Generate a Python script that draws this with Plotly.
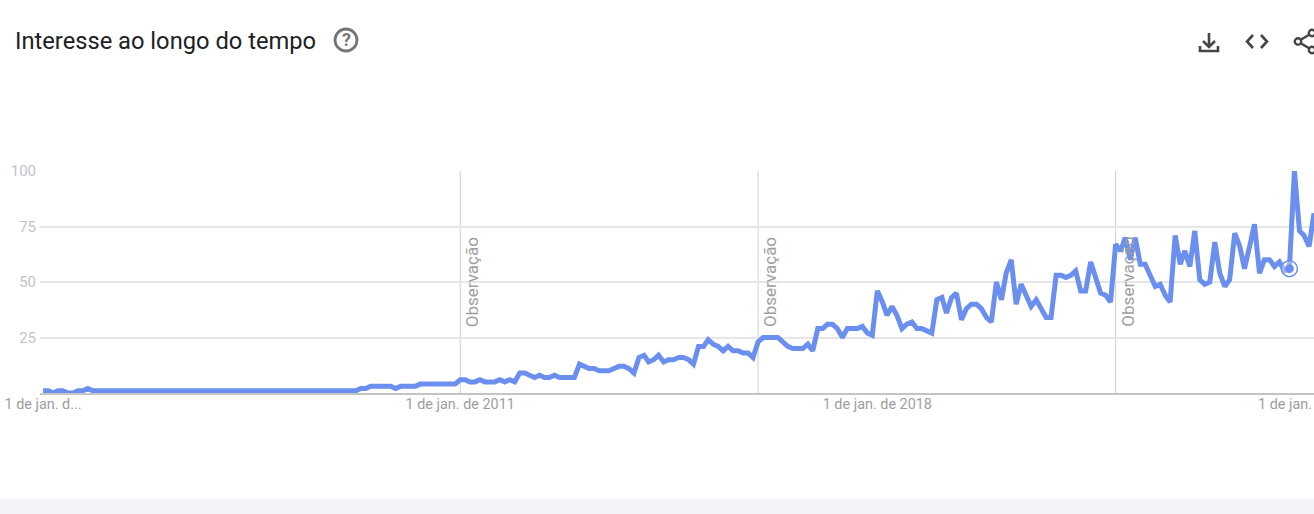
import pandas as pd
import plotly.graph_objects as go

W, H = 1314, 514

TITLE = "Interesse ao longo do tempo"
NOTE = "Observação"
NOTE_DATES = ["2011-01-01", "2016-01-01", "2022-01-01"]
Y_TICKS = [25, 50, 75, 100]
X_TICKS = ["2004-01-01", "2011-01-01", "2018-01-01"]
X_TICK_TEXT = ["1 de jan. d...", "1 de jan. de 2011", "1 de jan. de 2018"]
LAST_TICK_TEXT = "1 de jan."

v2004 = [1, 1, 0, 1, 1, 0, 0, 1, 1, 2, 1, 1]
v2005 = [1, 1, 1, 1, 1, 1, 1, 1, 1, 1, 1, 1]
v2006 = [1, 1, 1, 1, 1, 1, 1, 1, 1, 1, 1, 1]
v2007 = [1, 1, 1, 1, 1, 1, 1, 1, 1, 1, 1, 1]
v2008 = [1, 1, 1, 1, 1, 1, 1, 1, 1, 1, 1, 1]
v2009 = [1, 1, 1, 1, 2, 2, 3, 3, 3, 3, 3, 2]
v2010 = [3, 3, 3, 3, 4, 4, 4, 4, 4, 4, 4, 4]
v2011 = [6, 6, 5, 5, 6, 5, 5, 5, 6, 5, 6, 5]
v2012 = [9, 9, 8, 7, 8, 7, 7, 8, 7, 7, 7, 7]
v2013 = [13, 12, 11, 11, 10, 10, 10, 11, 12, 12, 11, 9]
v2014 = [16, 17, 14, 15, 17, 14, 15, 15, 16, 16, 15, 13]
v2015 = [21, 21, 24, 22, 21, 19, 21, 19, 19, 18, 18, 16]
v2016 = [23, 25, 25, 25, 25, 23, 21, 20, 20, 20, 22, 19]
v2017 = [29, 29, 31, 31, 29, 25, 29, 29, 29, 30, 27, 26]
v2018 = [46, 41, 35, 39, 35, 29, 31, 32, 29, 29, 28, 27]
v2019 = [42, 43, 36, 43, 45, 33, 38, 40, 40, 38, 34, 32]
v2020 = [50, 42, 54, 60, 40, 49, 44, 39, 42, 38, 34, 34]
v2021 = [53, 53, 52, 53, 55, 46, 46, 59, 52, 45, 44, 41]
v2022 = [67, 64, 70, 60, 70, 58, 58, 53, 48, 49, 44, 41]
v2023 = [71, 58, 64, 57, 73, 51, 49, 50, 68, 54, 48, 51]
v2024 = [72, 66, 56, 66, 76, 54, 60, 60, 57, 59, 55, 56]
v2025 = [100, 73, 71, 66, 81]

values = (v2004 + v2005 + v2006 + v2007 + v2008 + v2009 + v2010 + v2011 + v2012 + v2013
          + v2014 + v2015 + v2016 + v2017 + v2018 + v2019 + v2020 + v2021 + v2022 + v2023
          + v2024 + v2025)
dates = pd.date_range("2004-01-01", periods=len(values), freq="MS")

BLUE = "#6b8fef"


def X(p):
    return p / W


def Y(p):
    return 1 - p / H


def path(*subpaths):
    out = []
    for pts in subpaths:
        out.append("M" + " L".join(f"{X(a):.5f},{Y(b):.5f}" for a, b in pts))
    return " ".join(out)


def circle(cx, cy, r, color, width, fill="white"):
    return dict(type="circle", xref="paper", yref="paper", x0=X(cx - r), x1=X(cx + r),
                y0=Y(cy + r), y1=Y(cy - r), line=dict(color=color, width=width), fillcolor=fill)


ICON = "#444746"
shapes = [
    dict(type="rect", xref="paper", yref="paper", x0=0, x1=1, y0=0, y1=Y(499),
         fillcolor="#f1f3f6", line_width=0),
    circle(346, 40, 11, "#757575", 2.8),
    dict(type="path", xref="paper", yref="paper", line=dict(color=ICON, width=2.6),
         path=path([(1209, 33), (1209, 46)], [(1203, 41), (1209, 47), (1215, 41)],
                   [(1200, 46), (1200, 51), (1218, 51), (1218, 46)])),
    dict(type="path", xref="paper", yref="paper", line=dict(color=ICON, width=2.6),
         path=path([(1253, 35), (1247, 41.5), (1253, 48)], [(1261, 35), (1267, 41.5), (1261, 48)])),
    dict(type="path", xref="paper", yref="paper", line=dict(color=ICON, width=2.6),
         path=path([(1312, 33), (1298, 41.5), (1312, 50)])),
    circle(1298, 41.5, 3.2, ICON, 2.4),
    circle(1312, 33, 3.2, ICON, 2.4),
    circle(1312, 50, 3.2, ICON, 2.4),
]
for d in NOTE_DATES:
    shapes.append(dict(type="line", xref="x", yref="paper", x0=d, x1=d, y0=Y(393), y1=Y(171),
                       line=dict(color="#cfcfcf", width=1), layer="below"))

annotations = [
    dict(text=TITLE, xref="paper", yref="paper", x=X(13), y=Y(41), xanchor="left", yanchor="middle",
         showarrow=False, font=dict(family="Roboto", size=23.7, color="#202124")),
    dict(text="<b>?</b>", xref="paper", yref="paper", x=X(346), y=Y(40), xanchor="center", yanchor="middle",
         showarrow=False, font=dict(family="Roboto", size=18, color="#757575")),
    dict(text=LAST_TICK_TEXT, xref="paper", yref="paper", x=1, y=Y(404), xanchor="right", yanchor="middle",
         showarrow=False, xshift=0, font=dict(family="Roboto", size=14.4, color="#9e9e9e")),
]
for d in NOTE_DATES:
    annotations.append(dict(text=NOTE, x=d, y=50, xref="x", yref="y", xshift=12, textangle=-90,
                            showarrow=False, xanchor="center", yanchor="middle",
                            font=dict(family="Roboto", size=17, color="#9e9e9e")))

fig = go.Figure()
fig.add_trace(go.Scatter(x=dates, y=values, mode="lines", line=dict(color=BLUE, width=5),
                         hoverinfo="x+y", showlegend=False))
fig.add_trace(go.Scatter(x=[dates[251]], y=[values[251]], mode="markers",
                         marker=dict(symbol="circle", size=16, color="rgba(255,255,255,0.35)",
                                     line=dict(color=BLUE, width=1.5)),
                         hoverinfo="skip", showlegend=False))
fig.add_trace(go.Scatter(x=[dates[251]], y=[values[251]], mode="markers",
                         marker=dict(symbol="circle", size=9, color=BLUE),
                         hoverinfo="skip", showlegend=False))

fig.update_layout(
    width=W, height=H, margin=dict(l=0, r=0, t=0, b=0, autoexpand=False),
    paper_bgcolor="white", plot_bgcolor="white",
    shapes=shapes, annotations=annotations,
    xaxis=dict(type="date", domain=[X(40), 1], range=["2003-12-13", "2025-05-01"],
               tickmode="array", tickvals=X_TICKS, ticktext=X_TICK_TEXT, automargin=False,
               showgrid=False, zeroline=False, showline=True, linecolor="#c4c4c4", linewidth=2,
               ticks="", ticklabeloverflow="allow", ticklabelstandoff=-3,
               tickfont=dict(family="Roboto", size=14.4, color="#9e9e9e")),
    yaxis=dict(domain=[Y(393), Y(171)], range=[0, 100], tickmode="array", tickvals=Y_TICKS,
               automargin=False, showgrid=True, gridcolor="#e6e6e6", gridwidth=1.5,
               zeroline=False, showline=False, ticklabelstandoff=3,
               ticks="", tickfont=dict(family="Roboto", size=15, color="#c0c4cc")),
)

fig.write_html("out.html", config={"displayModeBar": False},
               post_script="document.body.style.margin='0';document.body.style.overflow='hidden';")
